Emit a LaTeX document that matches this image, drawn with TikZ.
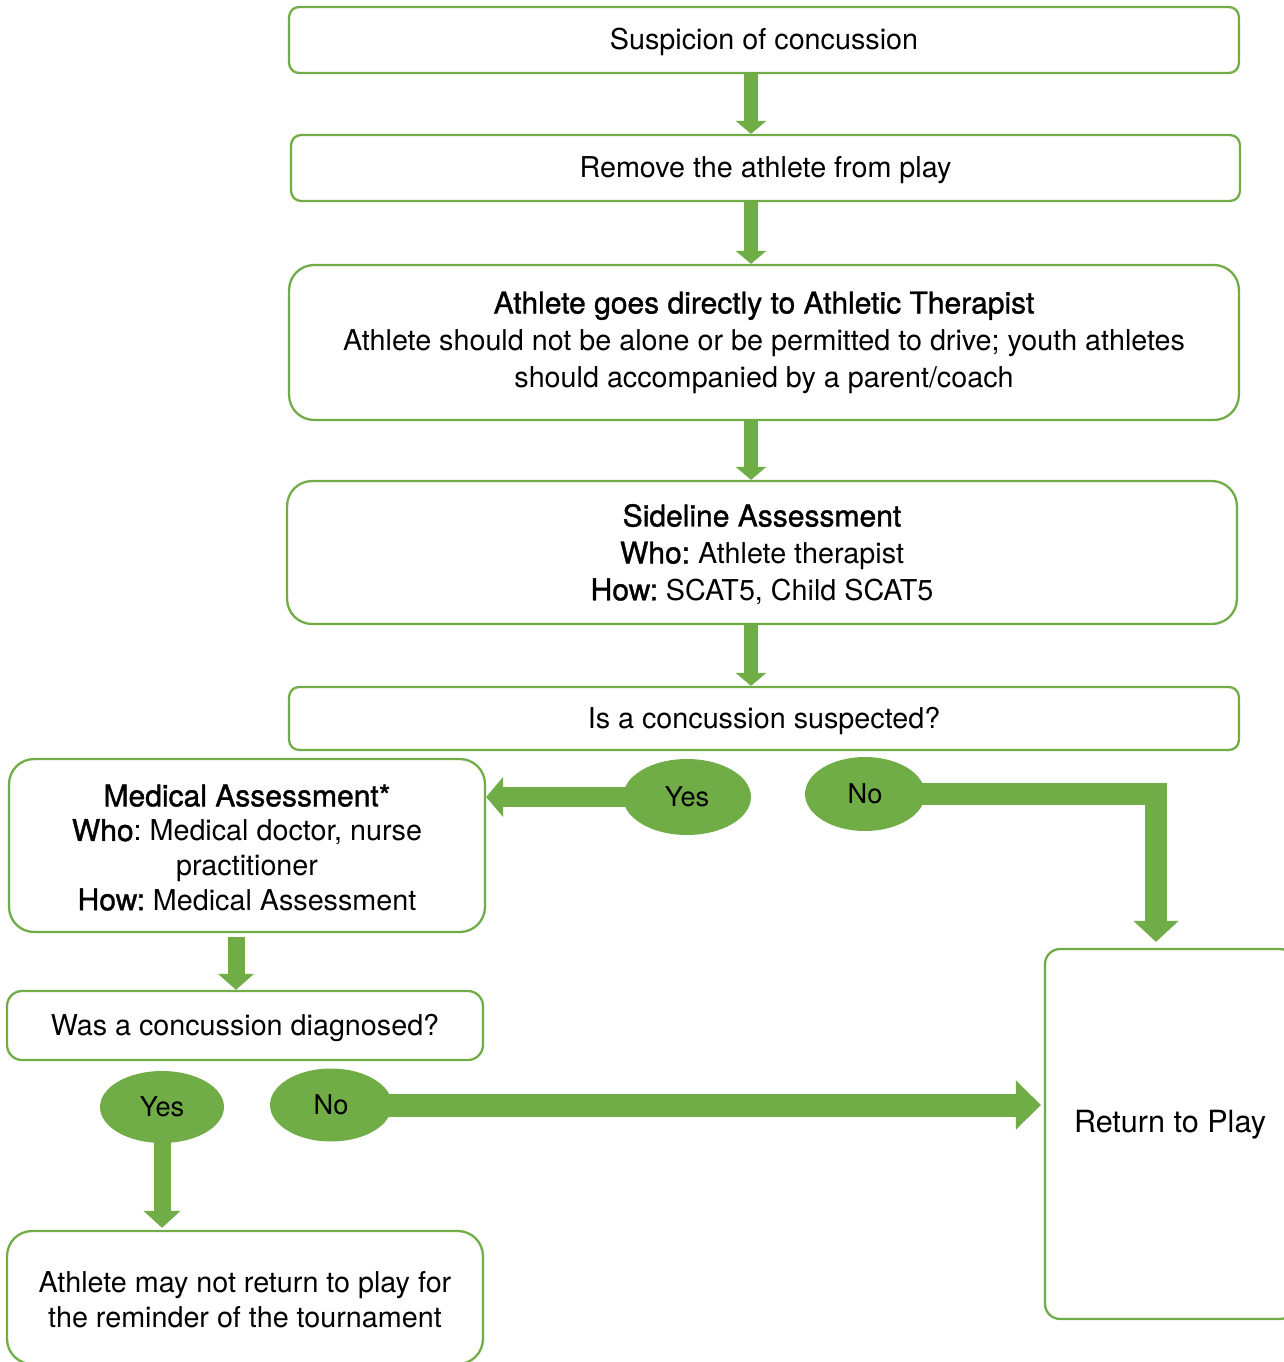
\documentclass[tikz,border=0pt]{standalone}
\usepackage{fontspec}
\setmainfont{TeX Gyre Heros}
\newfontfamily\medfont[FakeBold=1.2,Scale=1.045]{TeX Gyre Heros}
\usetikzlibrary{arrows.meta,shapes.geometric,calc}
\definecolor{lgreen}{HTML}{70AD47}
\pgfdeclarelayer{bg}
\pgfsetlayers{bg,main}
\frenchspacing
\newcommand{\lowr}{\rule{0pt}{0.52cm}}
\begin{document}
\begin{tikzpicture}[x=0.02cm,y=-0.02cm,
  box/.style={draw=lgreen,line width=1.3pt,fill=white,rounded corners=0.2cm,align=center,
    font=\fontsize{16.35}{21}\selectfont\frenchspacing,inner sep=0pt},
  onebox/.style={box,text height=0.52cm,text depth=0.12cm},
  bigbox/.style={box,rounded corners=0.5cm},
  oval/.style={ellipse,fill=lgreen,draw=none,inner sep=0pt,font=\fontsize{15.5}{18}\selectfont},
  blk/.style={lgreen,line join=miter}
]
\useasboundingbox (0,0) rectangle (1284,1362);
\begin{scope}
\clip (0,0) rectangle (1284,1362);
% boxes
\node[onebox,minimum width=19cm,minimum height=1.32cm] (n1) at (764,40) {Suspicion of concussion};
\node[onebox,minimum width=18.98cm,minimum height=1.32cm] (n2) at (765.5,168) {Remove the athlete from play};
\node[bigbox,minimum width=19cm,minimum height=3.1cm] (n3) at (764,342.5)
  {{\medfont Athlete goes directly to Athletic Therapist}\\
   Athlete should not be alone or be permitted to drive; youth athletes\\
   should accompanied by a parent/coach};
\node[bigbox,minimum width=19cm,minimum height=2.86cm] (n4) at (762,552.5)
  {\lowr{\medfont Sideline Assessment}\\
   {\medfont Who:} Athlete therapist\\
   {\medfont How:} SCAT5, Child SCAT5};
\node[onebox,minimum width=19cm,minimum height=1.26cm] (n5) at (764,718.5) {Is a concussion suspected?};
\node[bigbox,minimum width=9.52cm,minimum height=3.46cm,font=\fontsize{16.35}{19.7}\selectfont\frenchspacing] (med) at (247,845.5)
  {\lowr{\medfont Medical Assessment*}\\
   {\medfont Who}: Medical doctor, nurse\\
   practitioner\\
   {\medfont How:} Medical Assessment};
\node[onebox,rounded corners=0.3cm,minimum width=9.52cm,minimum height=1.38cm] (was) at (245,1025.5) {Was a concussion diagnosed?};
\node[bigbox,minimum width=9.52cm,minimum height=2.66cm,font=\fontsize{16.35}{19.7}\selectfont] (may) at (245,1297.5)
  {\lowr Athlete may not return to play for\\the reminder of the tournament};
\node[box,rounded corners=0.3cm,minimum width=5cm,minimum height=7.4cm,
  font=\fontsize{17.4}{20}\selectfont,text depth=0.5cm] (rtp) at (1170,1134) {Return to Play};
% ovals
\node[oval,minimum width=2.56cm,minimum height=1.52cm] (y1) at (687,797) {Yes};
\node[oval,minimum width=2.4cm,minimum height=1.48cm] (no1) at (865,794) {No};
\node[oval,minimum width=2.48cm,minimum height=1.44cm] (y2) at (162,1107) {Yes};
\node[oval,minimum width=2.44cm,minimum height=1.46cm] (no2) at (331,1105) {No};
% helper coordinates
\coordinate (ax) at (751,0);
\coordinate (ax2) at (236,0);
\coordinate (cx) at (1156,0);
\begin{pgfonlayer}{bg}
\tikzset{varrow/.style={blk,line width=0.28cm,-{Triangle[width=0.6cm,length=0.26cm]}}}
\draw[varrow] (n1.south -| ax) -- (n2.north -| ax);
\draw[varrow] (n2.south -| ax) -- (n3.north -| ax);
\draw[varrow] (n3.south -| ax) -- (n4.north -| ax);
\draw[varrow] (n4.south -| ax) -- (n5.north -| ax);
\draw[blk,line width=0.4cm,-{Triangle[width=0.78cm,length=0.34cm]}] (y1.center) -- (y1.center -| med.east);
\draw[blk,line width=0.44cm,-{Triangle[width=0.88cm,length=0.42cm]}] (no1.center) -| ($(rtp.north -| cx)+(0,-6)$);
\draw[blk,line width=0.34cm,-{Triangle[width=0.7cm,length=0.32cm]}] ($(med.south -| ax2)+(0,4)$) -- (was.north -| ax2);
\draw[blk,line width=0.34cm,-{Triangle[width=0.72cm,length=0.34cm]}] (y2.center) -- ($(y2.center |- may.north)+(0,-2)$);
\draw[blk,line width=0.46cm,-{Triangle[width=0.96cm,length=0.5cm]}] (no2.center) -- ($(no2.center -| rtp.west)+(-3,0)$);
\end{pgfonlayer}
\end{scope}
\end{tikzpicture}
\end{document}
